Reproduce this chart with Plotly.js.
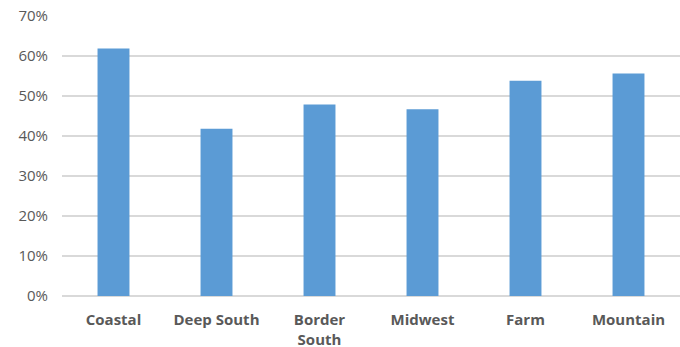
<!DOCTYPE html>
<html>
<head>
<meta charset="utf-8">
<script src="https://cdn.plot.ly/plotly-3.0.1.min.js"></script>
<style>html,body{margin:0;padding:0;background:#fff;}#chart{width:680px;height:347px;}</style>
</head>
<body>
<div id="chart"></div>
<script>
var categories = ["Coastal", "Deep South", "Border<br>South", "Midwest", "Farm", "Mountain"];
var values = [0.619, 0.418, 0.479, 0.467, 0.538, 0.556];
var yTickVals = [0, 0.1, 0.2, 0.3, 0.4, 0.5, 0.6, 0.7];

var trace = {
  type: "bar",
  x: categories,
  y: values,
  marker: {color: "#5b9bd5"},
  hoverinfo: "none"
};

var layout = {
  width: 680,
  height: 347,
  margin: {l: 62, r: 0, t: 16, b: 51},
  paper_bgcolor: "#ffffff",
  plot_bgcolor: "#ffffff",
  bargap: 0.69,
  showlegend: false,
  font: {family: "Open Sans, sans-serif", color: "#595959"},
  xaxis: {
    type: "category",
    showgrid: false,
    showline: false,
    zeroline: false,
    ticks: "",
    tickangle: 0,
    ticklabelstandoff: 13,
    tickfont: {family: "Open Sans, sans-serif", size: 15, color: "#595959", weight: "bold"}
  },
  yaxis: {
    range: [0, 0.7],
    tickvals: yTickVals,
    tickformat: ".0%",
    showgrid: true,
    gridcolor: "#d9d9d9",
    gridwidth: 1.5,
    zeroline: true,
    zerolinecolor: "#d9d9d9",
    zerolinewidth: 1.5,
    showline: false,
    ticks: "",
    ticklabelstandoff: 13,
    tickfont: {family: "Open Sans, sans-serif", size: 15, color: "#595959"}
  }
};

Plotly.newPlot("chart", [trace], layout, {displayModeBar: false, staticPlot: true});
</script>
</body>
</html>
